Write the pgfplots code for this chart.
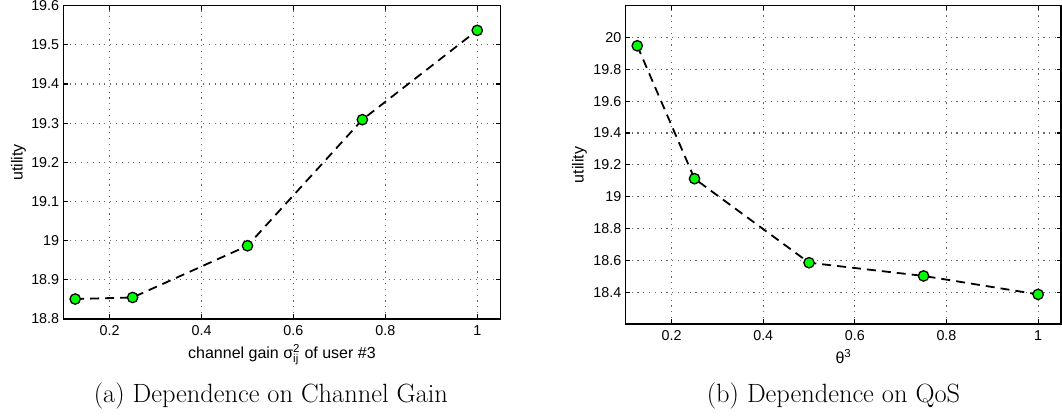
\documentclass[border=0pt]{standalone}
\usepackage{fontspec}
\usepackage{pgfplots}
\pgfplotsset{compat=1.18}
\newfontfamily\arial{Liberation Sans}
\definecolor{mgreen}{RGB}{0,255,0}
\pgfplotsset{
  myax/.style={
    scale only axis,
    anchor=south west,
    xmin=0.1, xmax=1.05,
    xtick={0.2,0.4,0.6,0.8,1},
    grid=major,
    major grid style={draw=black!60, line width=1.1pt, dash pattern=on 1.1pt off 4.7pt},
    axis line style={line width=1.3pt},
    tick align=inside,
    major tick length=4.5pt,
    every tick/.style={black, line width=1.1pt},
    /pgf/number format/assume math mode=true,
    ticklabel style={font=\arial\fontsize{14.3}{16}\selectfont},
    label style={font=\arial\fontsize{16}{18}\selectfont},
    xticklabel style={anchor=base, inner sep=0pt, yshift=-16.3pt},
    yticklabel style={anchor=east, inner sep=0pt, xshift=-4.4pt},
    xlabel style={at={(axis description cs:0.5,0)}, anchor=base, yshift=-39.3pt},
  },
  myplot/.style={
    black, line width=1.8pt, dash pattern=on 9pt off 6pt,
    mark=*, mark size=5.2pt,
    mark options={solid, fill=mgreen, draw=black, line width=1.3pt},
  }
}
\begin{document}
\begin{tikzpicture}
\path[use as bounding box] (0,0) rectangle (1062pt,415pt);
\begin{axis}[myax,
  at={(63.7pt,96pt)}, width=436.5pt, height=313.3pt,
  ymin=18.8, ymax=19.6,
  ytick={18.8,18.9,19,19.1,19.2,19.3,19.4,19.5,19.6},
  xlabel={channel gain σ$^{\mbox{\arial\fontsize{11.5}{12}\selectfont 2}}_{\mbox{\arial\fontsize{11.5}{12}\selectfont ij}}$ of user \#3},
  ylabel={utility},
  ylabel style={at={(axis description cs:-0.1033,0.5)}, anchor=center},
]
\addplot[myplot] coordinates {
(0.125,18.851) (0.25,18.855) (0.5,18.987) (0.75,19.309) (1,19.537)
};
\end{axis}
\begin{axis}[myax,
  at={(625.8pt,91pt)}, width=435.2pt, height=318.3pt,
  ymin=18.2, ymax=20.2,
  ytick={18.4,18.6,18.8,19,19.2,19.4,19.6,19.8,20},
  xlabel={θ$^{\mbox{\arial\fontsize{11.5}{12}\selectfont 3}}$},
  ylabel={utility},
  ylabel style={at={(axis description cs:-0.1066,0.5)}, anchor=center},
]
\addplot[myplot] coordinates {
(0.125,19.948) (0.25,19.113) (0.5,18.585) (0.75,18.502) (1,18.386)
};
\end{axis}
\node[anchor=base, font=\fontsize{26.4}{30}\selectfont] at (270.9pt,12.7pt) {(a) Dependence on Channel Gain};
\node[anchor=base, font=\fontsize{26.4}{30}\selectfont] at (833.5pt,12.7pt) {(b) Dependence on QoS};
\end{tikzpicture}
\end{document}
